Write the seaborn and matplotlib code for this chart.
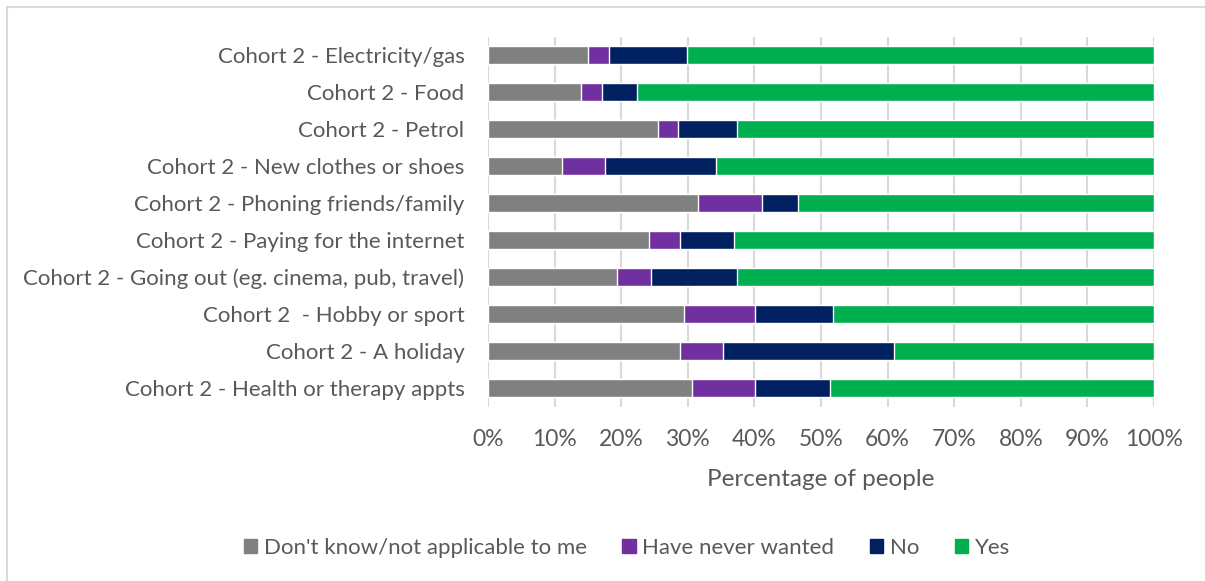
import pandas as pd
import numpy as np
import seaborn as sns
from matplotlib import pyplot as plt
from matplotlib.patches import Patch, Rectangle

# 数据（百分比）
categories = ['Cohort 2 - Electricity/gas', 'Cohort 2 - Food', 'Cohort 2 - Petrol',
              'Cohort 2 - New clothes or shoes', 'Cohort 2 - Phoning friends/family',
              'Cohort 2 - Paying for the internet', 'Cohort 2 - Going out (eg. cinema, pub, travel)',
              'Cohort 2  - Hobby or sport', 'Cohort 2 - A holiday', 'Cohort 2 - Health or therapy appts']
dont_know = [15.0, 13.9, 25.6, 11.1, 31.6, 24.1, 19.3, 29.4, 28.9, 30.6]
never_wanted = [3.1, 3.2, 2.9, 6.5, 9.6, 4.8, 5.2, 10.7, 6.4, 9.5]
no = [11.8, 5.2, 8.9, 16.6, 5.3, 8.0, 12.9, 11.7, 25.6, 11.2]
yes = [70.1, 77.7, 62.6, 65.8, 53.5, 63.1, 62.6, 48.2, 39.1, 48.7]
series_names = ["Don't know/not applicable to me", 'Have never wanted', 'No', 'Yes']
colors = ['#808080', '#7030A0', '#002060', '#00B050']

sns.set_theme(style='white')
plt.rcParams['font.family'] = ['Lato', 'DejaVu Sans']
txt = '#595959'

df = pd.DataFrame({'cat': categories, series_names[0]: dont_know, series_names[1]: never_wanted,
                   series_names[2]: no, series_names[3]: yes})
cum = df[series_names].cumsum(axis=1)

fig = plt.figure(figsize=(12.05, 5.81), dpi=100)
ax = fig.add_axes([488 / 1205, 1 - 406.5 / 581, 666 / 1205, 370 / 581])

# 堆叠条形图：从累计最大值开始画
for name, c in reversed(list(zip(series_names, colors))):
    sns.barplot(x=cum[name], y=df['cat'], color=c, width=0.49, ax=ax, saturation=1, zorder=3)

ax.set_xlim(0, 100)
ax.set_xticks(np.arange(0, 101, 10))
ax.set_xticklabels([f'{v}%' for v in range(0, 101, 10)])
ax.xaxis.grid(True, color='#D9D9D9', linewidth=1.5, zorder=0)
ax.set_axisbelow(True)
for s in ax.spines.values():
    s.set_visible(False)
ax.tick_params(axis='both', length=0, labelcolor=txt)
ax.tick_params(axis='y', pad=17, labelsize=16)
ax.tick_params(axis='x', pad=16, labelsize=16.5)
ax.set_ylabel('')
ax.set_xlabel('Percentage of people', fontsize=17.5, color=txt, labelpad=14)

handles = [Patch(color=c, label=n) for n, c in zip(series_names, colors)]
fig.legend(handles=handles, loc='center', bbox_to_anchor=(627 / 1205, 1 - 548 / 581), ncol=4,
           frameon=False, fontsize=16, labelcolor=txt, handlelength=0.6, handleheight=0.6,
           handletextpad=0.3, columnspacing=1.6)

# 图表外框
fig.patches.append(Rectangle((7 / 1205, -0.1), 1.2, 1 - 7 / 581 + 0.1, transform=fig.transFigure,
                             fill=False, edgecolor='#D9D9D9', linewidth=1.5))

plt.savefig('out.png', dpi=100)
